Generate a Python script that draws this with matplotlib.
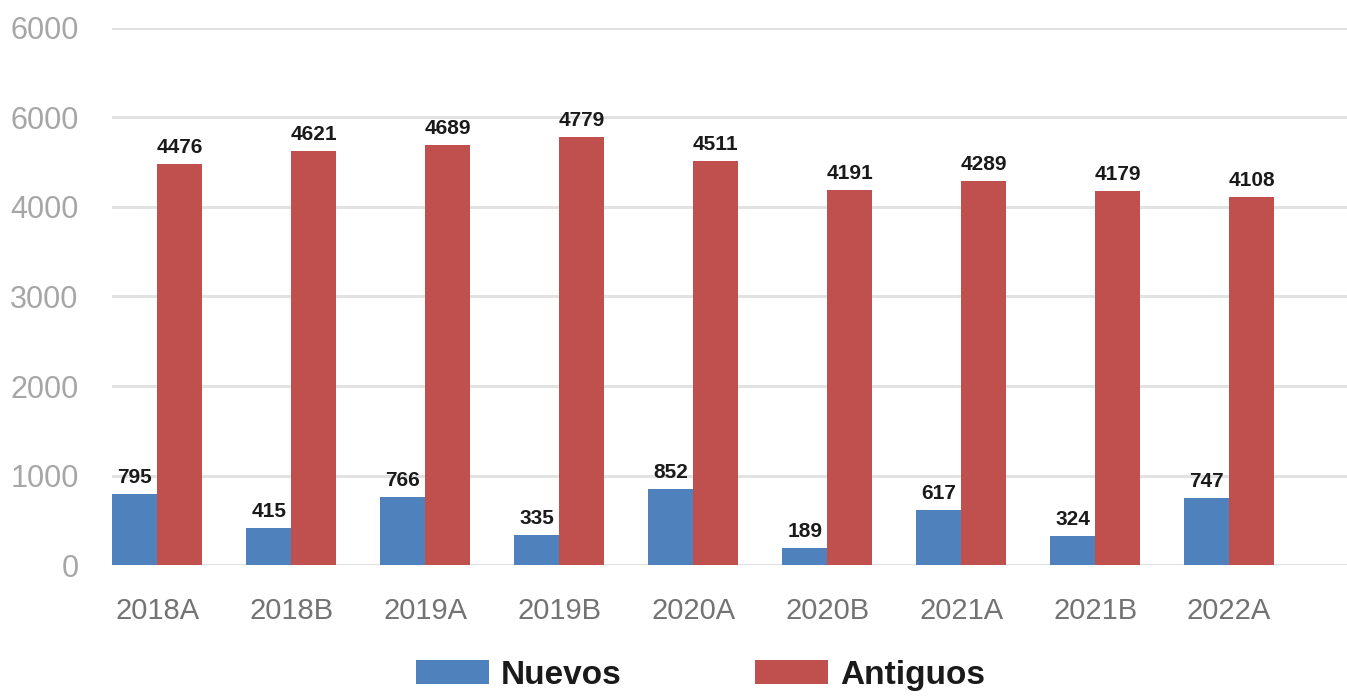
import matplotlib.pyplot as plt
import numpy as np

plt.rcParams['font.family'] = ['Liberation Sans', 'DejaVu Sans']

# data
periodos = ["2018A", "2018B", "2019A", "2019B", "2020A", "2020B", "2021A", "2021B", "2022A"]
nuevos = [795, 415, 766, 335, 852, 189, 617, 324, 747]
antiguos = [4476, 4621, 4689, 4779, 4511, 4191, 4289, 4179, 4108]
yticks = [0, 1000, 2000, 3000, 4000, 5000, 6000]
ytick_labels = ["0", "1000", "2000", "3000", "4000", "6000", "6000"]

azul = "#4F81BD"
rojo = "#C0504D"

fig = plt.figure(figsize=(13.47, 6.96), dpi=100)
ax = fig.add_axes([0.0831, 0.188, 0.9169, 0.772])

x = np.arange(len(periodos))
w = 0.336
b1 = ax.bar(x - w / 2, nuevos, w, color=azul, label="Nuevos", zorder=3)
b2 = ax.bar(x + w / 2, antiguos, w, color=rojo, label="Antiguos", zorder=3)

for bars in (b1, b2):
    ax.bar_label(bars, padding=5, fontsize=15, fontweight="bold", color="#1a1a1a")

ax.set_xlim(-0.34, 8.88)
ax.set_ylim(0, 6000)
ax.set_yticks(yticks)
ax.set_yticklabels(ytick_labels)
ax.set_xticks(x)
ax.set_xticklabels(periodos)
ax.tick_params(axis="y", length=0, pad=24, labelsize=22, labelcolor="#a6a6a6")
ax.tick_params(axis="x", length=0, pad=23, labelsize=21, labelcolor="#737373")
ax.grid(axis="y", color="#e2e2e2", linewidth=2.2, zorder=0)
for s in ax.spines.values():
    s.set_visible(False)

leg = fig.legend(loc="center", bbox_to_anchor=(0.52, 0.03), ncol=2, frameon=False,
                 prop={"size": 24, "weight": "bold"}, handlelength=2.2, handleheight=0.73,
                 handletextpad=0.36, columnspacing=4.0, borderpad=0.1)
for t in leg.get_texts():
    t.set_color("#1a1a1a")

plt.savefig("out.png", dpi=100)
